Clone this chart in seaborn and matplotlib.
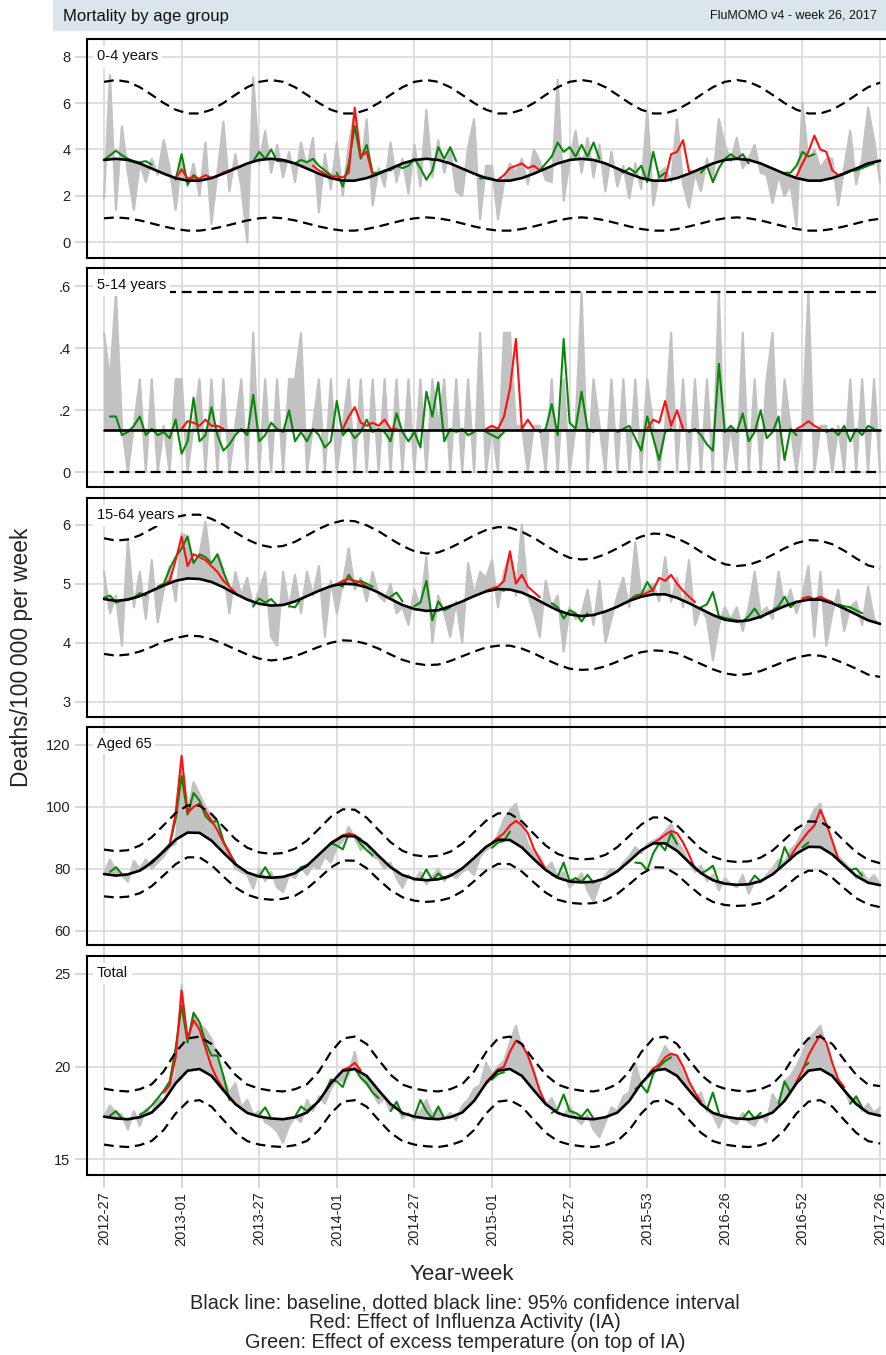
import numpy as np
import matplotlib
matplotlib.use("Agg")
import matplotlib.pyplot as plt
import seaborn as sns

# ── x axis: week index, 0 = 2012-27 ... 260 = 2017-26 ─────────────
wk2 = np.arange(0, 261, 2)      # observed, IA and temperature lines
wk4 = np.arange(0, 261, 4)      # baseline and 95% limits
wk_flat = [0, 260]              # constant lines (5-14 years)
tick_weeks = np.arange(0, 261, 26)
tick_labels = ['2012-27', '2013-01', '2013-27', '2014-01', '2014-27', '2015-01',
               '2015-27', '2015-53', '2016-26', '2016-52', '2017-26']

# ── 0-4 years ─────────────────────────────────────────────────────
obs_04 = [1.9, 7.2, 1.4, 5.0, 3.0, 1.4, 3.4, 2.6, 3.6, 2.9, 4.4, 3.2,
          1.4, 3.6, 2.4, 3.4, 2.0, 4.3, 0.8, 3.0, 5.2, 2.2, 3.8, 2.4,
          0.0, 7.1, 3.4, 4.8, 3.0, 4.2, 2.8, 3.9, 2.6, 4.3, 3.2, 4.5,
          1.3, 3.8, 2.3, 4.3, 2.0, 4.2, 5.6, 3.0, 5.3, 1.6, 3.2, 2.4,
          4.3, 2.6, 3.6, 2.1, 4.2, 2.4, 5.7, 2.8, 4.4, 3.0, 4.0, 2.2,
          2.0, 4.1, 5.3, 1.0, 3.3, 3.3, 1.0, 2.6, 3.4, 3.0, 3.6, 2.5,
          4.0, 3.5, 2.7, 2.6, 7.0, 1.8, 3.5, 4.8, 3.0, 4.5, 2.8, 4.2,
          2.2, 3.9, 2.4, 3.3, 1.9, 3.4, 2.3, 5.7, 1.6, 3.0, 3.2, 2.6,
          5.3, 2.5, 1.5, 3.0, 2.2, 3.6, 2.6, 5.3, 4.2, 3.5, 4.5, 3.2,
          3.6, 4.2, 3.0, 2.9, 1.7, 2.9, 2.0, 2.5, 0.7, 6.0, 3.5, 4.0,
          3.2, 3.6, 3.6, 1.6, 3.2, 4.8, 2.5, 3.6, 5.8, 4.4, 2.6]
base_04 = [3.55, 3.60, 3.55, 3.40, 3.18, 2.96, 2.77, 2.66, 2.66, 2.77, 2.96, 3.18, 3.40,
           3.55, 3.60, 3.55, 3.40, 3.18, 2.96, 2.77, 2.66, 2.66, 2.77, 2.96, 3.18, 3.40,
           3.55, 3.60, 3.55, 3.40, 3.18, 2.96, 2.77, 2.66, 2.66, 2.77, 2.96, 3.18, 3.40,
           3.55, 3.60, 3.55, 3.40, 3.18, 2.96, 2.77, 2.66, 2.66, 2.77, 2.96, 3.18, 3.40,
           3.55, 3.60, 3.55, 3.40, 3.18, 2.96, 2.77, 2.66, 2.66, 2.77, 2.96, 3.18, 3.40,
           3.52]
up_04 = [6.91, 6.99, 6.91, 6.68, 6.35, 6.00, 5.71, 5.55, 5.55, 5.71, 6.00, 6.35, 6.68,
         6.91, 6.99, 6.91, 6.68, 6.35, 6.00, 5.71, 5.55, 5.55, 5.71, 6.00, 6.35, 6.68,
         6.91, 6.99, 6.91, 6.68, 6.35, 6.00, 5.71, 5.55, 5.55, 5.71, 6.00, 6.35, 6.68,
         6.91, 6.99, 6.91, 6.68, 6.35, 6.00, 5.71, 5.55, 5.55, 5.71, 6.00, 6.35, 6.68,
         6.91, 6.99, 6.91, 6.68, 6.35, 6.00, 5.71, 5.55, 5.55, 5.71, 6.00, 6.35, 6.68,
         6.88]
lo_04 = [1.04, 1.08, 1.04, 0.95, 0.82, 0.69, 0.58, 0.51, 0.51, 0.58, 0.69, 0.82, 0.95,
         1.04, 1.08, 1.04, 0.95, 0.82, 0.69, 0.58, 0.51, 0.51, 0.58, 0.69, 0.82, 0.95,
         1.04, 1.08, 1.04, 0.95, 0.82, 0.69, 0.58, 0.51, 0.51, 0.58, 0.69, 0.82, 0.95,
         1.04, 1.08, 1.04, 0.95, 0.82, 0.69, 0.58, 0.51, 0.51, 0.58, 0.69, 0.82, 0.95,
         1.04, 1.08, 1.04, 0.95, 0.82, 0.69, 0.58, 0.51, 0.51, 0.58, 0.69, 0.82, 0.95,
         1.02]
# {first week: values every 2nd week}
red_04 = {24: [2.75, 3.15, 2.75, 2.8, 2.75, 2.9, 2.78, 2.85, 3.02, 3.1, 3.22],
          70: [3.3, 3.1, 2.95, 2.85, 2.85, 2.8, 3.0, 5.8, 3.7, 3.9, 2.9],
          132: [2.7, 2.9, 3.2, 3.3, 3.4, 3.2, 3.3, 3.1],
          188: [2.75, 3.8, 3.9, 4.4, 3.05, 3.05, 3.2],
          232: [2.85, 3.4, 3.9, 4.6, 4.0, 3.9, 3.1, 2.9, 2.98]}
green_04 = {0: [3.55, 3.75, 3.95, 3.75, 3.6, 3.5, 3.45, 3.5, 3.35],
            24: [2.7, 3.8, 2.5, 2.9, 2.7],
            50: [3.5, 3.9, 3.6, 4.0, 3.5, 3.5, 3.45, 3.4, 3.55, 3.45, 3.6, 3.3, 3.1, 2.9],
            78: [3.0, 2.4, 3.4, 5.0, 3.6, 4.2, 3.0, 3.0, 3.1, 3.1, 3.3, 3.2, 3.3, 3.6,
                 3.2, 2.7, 3.1, 4.1, 3.6, 4.1, 3.5],
            126: [2.75, 2.8, 2.75],
            146: [3.1, 3.4, 3.7, 4.3, 3.9, 4.1, 3.7, 4.2, 3.7, 4.3, 3.6],
            172: [3.2, 3.0, 3.2, 3.0, 3.3, 2.6, 3.9, 2.8, 3.0],
            200: [3.0, 3.3, 2.6, 3.2, 3.6, 3.8, 3.6, 3.8, 3.4],
            228: [3.0, 3.0, 3.3, 3.9, 3.7, 3.8],
            248: [3.0, 3.1, 3.1, 3.2, 3.3, 3.4]}

# ── 5-14 years ────────────────────────────────────────────────────
obs_514 = [.45, .30, .58, .15, 0, .15, .30, 0, .30, 0, .15, 0,
           .30, .30, 0, .15, .30, 0, .30, 0, .30, 0, .15, .30,
           0, .45, 0, .30, 0, .30, 0, .30, .30, .45, 0, .15,
           .30, 0, .30, 0, .15, .30, 0, .30, 0, .30, 0, .30,
           0, .30, 0, .30, 0, .30, 0, .30, .15, .30, 0, .30,
           0, .30, 0, .45, 0, .15, 0, .45, .45, .15, .15, 0,
           .15, .15, 0, .30, 0, .30, 0, .15, .58, 0, .30, .15,
           0, .30, 0, .30, 0, .30, 0, .30, .15, 0, .15, .45,
           0, .30, 0, .30, 0, .30, 0, .58, 0, .15, 0, .45,
           0, .30, 0, .30, .45, 0, .30, .15, 0, .15, .58, 0,
           .15, .15, 0, .15, 0, .30, 0, .30, 0, .30, 0]
base_514 = [0.135, 0.135]
up_514 = [0.58, 0.58]
lo_514 = [0.0, 0.0]
red_514 = {26: [.14, .165, .16, .15, .17, .15, .15, .14],
           80: [.14, .18, .21, .16, .15, .16, .15, .17, .14, .14],
           128: [.14, .15, .14, .18, .27, .43, .14, .17, .14],
           182: [.14, .17, .16, .23, .15, .20, .14],
           232: [.14, .15, .165, .15, .14]}
green_514 = {2: [.18, .18, .12, .13, .15, .18, .12, .14, .12, .13, .11, .17, .06, .10,
                 .24, .10, .12, .21, .12, .07, .09, .12, .14, .12, .25, .10, .12, .16,
                 .14, .13, .20, .10, .13, .10, .14, .12, .08, .10, .23, .12, .14, .11,
                 .13, .17, .13, .14, .13, .10, .19, .13, .10, .13, .08, .26, .18, .29,
                 .10, .14, .13, .14, .12, .13],
             128: [.13, .12, .11, .13],
             146: [.13, .14, .22, .12, .43, .16, .14, .26, .14, .13],
             172: [.13, .14, .15, .11, .07, .18, .11, .04, .13, .14],
             196: [.13, .14, .12, .09, .07, .35, .13, .15, .13, .19, .10, .13, .20,
                   .11, .13, .18, .04, .14, .12],
             242: [.13, .14, .12, .15, .10, .14, .12, .15, .14]}

# ── 15-64 years ───────────────────────────────────────────────────
obs_1564 = [5.2, 4.5, 4.8, 3.95, 5.75, 4.6, 5.2, 4.4, 5.4, 4.35, 4.9, 5.3,
            4.7, 5.85, 5.8, 5.3, 5.5, 6.05, 5.2, 5.5, 5.25, 4.5, 5.2, 4.8,
            5.1, 4.6, 4.9, 5.2, 4.1, 3.95, 5.2, 4.6, 5.15, 4.5, 5.2, 4.8,
            5.3, 4.1, 5.05, 4.5, 5.0, 5.6, 4.9, 5.1, 4.7, 5.2, 4.8, 4.7,
            5.0, 4.5, 4.6, 4.3, 4.9, 4.6, 5.45, 4.0, 4.8, 4.5, 4.1, 4.7,
            4.0, 5.35, 4.8, 5.2, 5.1, 5.4, 4.6, 5.2, 5.5, 4.8, 6.0, 4.8,
            4.5, 4.1, 5.05, 4.6, 4.8, 3.85, 4.6, 4.4, 4.5, 4.9, 4.3, 5.05,
            4.0, 4.4, 4.8, 5.1, 4.6, 5.7, 4.8, 4.9, 5.0, 4.7, 5.45, 4.7,
            5.1, 4.6, 5.4, 4.3, 4.6, 4.4, 3.7, 4.3, 4.6, 4.4, 4.6, 4.2,
            4.6, 5.2, 4.5, 4.6, 4.4, 5.2, 4.6, 4.9, 4.5, 4.8, 5.3, 4.1,
            5.2, 3.95, 4.5, 4.9, 4.2, 4.6, 4.7, 4.3, 4.95, 4.4, 4.3]
base_1564 = [4.74, 4.71, 4.73, 4.79, 4.88, 4.97, 5.05, 5.09, 5.08, 5.03, 4.94, 4.83, 4.73,
             4.66, 4.63, 4.64, 4.70, 4.79, 4.88, 4.96, 5.00, 4.99, 4.94, 4.85, 4.74, 4.64,
             4.57, 4.54, 4.55, 4.62, 4.70, 4.79, 4.87, 4.91, 4.90, 4.85, 4.76, 4.65, 4.55,
             4.48, 4.45, 4.47, 4.53, 4.61, 4.71, 4.78, 4.82, 4.82, 4.76, 4.67, 4.57, 4.47,
             4.39, 4.36, 4.38, 4.44, 4.53, 4.62, 4.69, 4.73, 4.73, 4.67, 4.58, 4.48, 4.38,
             4.32]
up_1564 = [5.77, 5.73, 5.75, 5.82, 5.93, 6.04, 6.13, 6.17, 6.17, 6.10, 6.00, 5.87, 5.75,
           5.66, 5.62, 5.64, 5.71, 5.82, 5.93, 6.02, 6.07, 6.06, 5.99, 5.89, 5.76, 5.64,
           5.55, 5.51, 5.53, 5.61, 5.71, 5.82, 5.91, 5.96, 5.95, 5.88, 5.78, 5.65, 5.53,
           5.44, 5.41, 5.43, 5.50, 5.60, 5.71, 5.80, 5.85, 5.84, 5.77, 5.67, 5.54, 5.42,
           5.33, 5.30, 5.32, 5.39, 5.49, 5.60, 5.69, 5.74, 5.73, 5.67, 5.56, 5.43, 5.31,
           5.26]
lo_1564 = [3.81, 3.78, 3.80, 3.85, 3.93, 4.02, 4.08, 4.12, 4.11, 4.06, 3.98, 3.89, 3.80,
           3.73, 3.70, 3.72, 3.77, 3.85, 3.93, 4.00, 4.04, 4.03, 3.98, 3.90, 3.80, 3.71,
           3.65, 3.62, 3.63, 3.69, 3.77, 3.85, 3.92, 3.95, 3.95, 3.90, 3.82, 3.72, 3.63,
           3.56, 3.54, 3.55, 3.60, 3.68, 3.77, 3.84, 3.87, 3.86, 3.82, 3.73, 3.64, 3.55,
           3.48, 3.45, 3.47, 3.52, 3.60, 3.68, 3.75, 3.79, 3.78, 3.73, 3.65, 3.56, 3.46,
           3.42]
red_1564 = {20: [4.98, 5.05, 5.4, 5.8, 5.3, 5.5, 5.45, 5.4, 5.3, 5.2, 5.05, 4.95, 4.85],
            78: [4.99, 5.05, 5.08, 5.05, 5.02, 4.95],
            128: [4.88, 4.92, 4.95, 5.05, 5.55, 5.0, 5.15, 4.95, 4.86, 4.77],
            178: [4.78, 4.8, 4.85, 4.9, 5.1, 5.05, 5.15, 5.0, 4.88, 4.78, 4.69],
            234: [4.75, 4.78, 4.74, 4.78, 4.73, 4.69]}
green_1564 = {0: [4.76, 4.8, 4.68, 4.72, 4.74, 4.76, 4.84, 4.8],
              18: [4.95, 5.0, 5.25, 5.45, 5.6, 5.8, 5.35, 5.5, 5.45, 5.35, 5.5, 5.2, 4.95],
              50: [4.62, 4.75, 4.68, 4.74, 4.63],
              62: [4.62, 4.6, 4.75],
              76: [4.95, 5.0, 4.95, 5.15, 5.0, 5.05, 5.0, 4.95],
              96: [4.78, 4.85, 4.7],
              104: [4.62, 4.68, 5.05, 4.38, 4.7, 4.55, 4.6],
              130: [4.9, 4.92, 4.88],
              150: [4.67, 4.6, 4.41, 4.55, 4.5, 4.36, 4.5],
              176: [4.72, 4.8, 4.82, 5.03, 4.87],
              200: [4.6, 4.65, 4.86, 4.45, 4.42, 4.4, 4.38, 4.36, 4.45, 4.58, 4.42,
                    4.5, 4.55, 4.62, 4.78, 4.6, 4.7],
              246: [4.65, 4.62, 4.6, 4.55, 4.5]}

# ── Aged 65 ───────────────────────────────────────────────────────
obs_65 = [78.5, 83.0, 79.5, 78.0, 75.8, 82.5, 80.0, 83.0, 80.0, 82.0, 84.0, 87.0,
          88.0, 113.0, 98.0, 108.0, 104.0, 100.0, 97.0, 95.0, 88.0, 86.0, 80.0, 79.0,
          78.0, 73.5, 80.0, 76.0, 79.0, 74.0, 72.5, 78.0, 77.0, 80.5, 78.0, 81.0,
          80.0, 84.0, 82.0, 87.0, 89.0, 93.5, 90.0, 86.0, 88.0, 84.0, 83.0, 80.0,
          82.0, 77.0, 73.8, 78.0, 76.0, 79.0, 75.0, 77.5, 80.0, 76.0, 78.5, 77.0,
          79.0, 80.0, 78.0, 84.0, 86.0, 87.5, 91.0, 96.0, 99.0, 101.0, 94.0, 88.0,
          85.0, 84.0, 80.0, 82.0, 77.0, 79.0, 74.0, 76.0, 78.5, 73.0, 69.5, 75.0,
          78.0, 80.0, 79.0, 82.0, 84.0, 87.0, 85.0, 88.0, 89.0, 90.0, 92.0, 94.5,
          89.0, 86.0, 82.0, 79.0, 81.0, 76.0, 78.0, 73.0, 77.0, 75.0, 74.0, 78.0,
          72.0, 76.0, 75.5, 78.0, 80.0, 83.0, 82.0, 86.0, 88.0, 92.0, 95.0, 99.0,
          101.0, 92.0, 88.0, 84.0, 82.0, 80.0, 77.0, 79.0, 76.0, 78.0, 75.0]
base_65 = [78.3, 77.8, 78.2, 79.4, 82.0, 85.6, 89.4, 91.7, 91.6, 89.1, 85.2, 81.5, 78.8,
           77.5, 77.1, 77.4, 78.6, 81.0, 84.6, 88.2, 90.6, 90.5, 88.0, 84.2, 80.5, 78.0,
           76.7, 76.3, 76.6, 77.7, 80.1, 83.5, 87.1, 89.4, 89.3, 86.9, 83.1, 79.6, 77.1,
           75.9, 75.6, 75.8, 76.9, 79.2, 82.5, 86.0, 88.2, 88.2, 85.8, 82.1, 78.6, 76.3,
           75.2, 74.8, 75.0, 76.0, 78.2, 81.5, 84.9, 87.1, 87.0, 84.6, 81.1, 77.7, 75.5,
           74.7]
up_65 = [86.2, 85.7, 86.0, 87.5, 90.2, 94.1, 98.0, 100.5, 100.4, 97.7, 93.6, 89.6, 86.8,
         85.3, 84.8, 85.1, 86.5, 89.1, 92.9, 96.8, 99.2, 99.1, 96.5, 92.5, 88.6, 85.8,
         84.4, 83.9, 84.2, 85.5, 88.1, 91.8, 95.5, 97.9, 97.8, 95.3, 91.3, 87.5, 84.8,
         83.5, 83.0, 83.3, 84.5, 87.0, 90.6, 94.3, 96.6, 96.5, 94.0, 90.1, 86.4, 83.9,
         82.6, 82.2, 82.4, 83.6, 85.9, 89.4, 93.0, 95.3, 95.2, 92.8, 89.0, 85.4, 82.9,
         81.8]
lo_65 = [71.1, 70.7, 71.0, 72.1, 74.4, 77.9, 81.5, 83.7, 83.7, 81.2, 77.5, 74.0, 71.6,
         70.4, 70.0, 70.3, 71.3, 73.6, 76.9, 80.4, 82.7, 82.6, 80.2, 76.5, 73.1, 70.8,
         69.7, 69.3, 69.6, 70.6, 72.7, 76.0, 79.4, 81.6, 81.5, 79.1, 75.6, 72.3, 70.0,
         69.0, 68.7, 68.9, 69.8, 71.9, 75.0, 78.3, 80.5, 80.4, 78.1, 74.6, 71.4, 69.3,
         68.3, 68.0, 68.2, 69.0, 71.0, 74.0, 77.3, 79.4, 79.3, 77.1, 73.7, 70.5, 68.5,
         67.6]
red_65 = {20: [85.8, 87.6, 98.0, 116.5, 98.0, 100.0, 101.0, 98.5, 95.5, 92.5, 88.5, 85.0, 81.6],
          76: [88.4, 89.6, 90.8, 91.3, 90.8, 89.6],
          130: [88.5, 90.0, 91.5, 94.0, 95.5, 94.0, 91.5, 86.5, 83.0, 79.7],
          184: [88.3, 89.5, 91.0, 92.2, 91.5, 88.5, 84.5, 80.0, 78.7],
          230: [84.0, 87.0, 89.5, 92.0, 94.0, 99.0, 94.5, 89.0, 83.0, 81.2]}
green_65 = {2: [79.0, 80.5, 78.3],
            12: [79.6, 80.5, 82.5, 84.0, 85.9, 88.0, 96.0, 110.0, 97.5, 104.5, 102.0,
                 97.0, 95.0, 95.5, 89.0, 85.0, 82.0],
            52: [77.5, 80.5, 77.2],
            64: [78.6, 80.5, 81.2],
            76: [88.3, 87.5, 86.3, 91.4, 90.8, 88.0, 86.0, 84.3],
            104: [76.7, 76.4, 79.8, 76.3, 78.5, 76.8, 77.8],
            130: [86.8, 88.5, 89.0, 92.0],
            150: [78.0, 77.5, 82.0, 76.0, 77.0, 75.8, 78.0, 75.5],
            178: [82.0, 81.8, 79.5, 85.0, 88.2, 86.0, 91.5, 88.0],
            200: [78.5, 79.5, 81.0, 75.5],
            216: [75.0, 77.8, 76.0],
            226: [80.3, 87.0, 83.0],
            234: [87.0, 88.5],
            250: [79.6, 80.1, 77.8]}

# ── Total ─────────────────────────────────────────────────────────
obs_tot = [17.3, 17.9, 17.5, 17.4, 16.6, 17.6, 16.8, 17.7, 17.5, 18.3, 18.2, 18.9,
           19.5, 24.4, 21.3, 22.9, 22.3, 22.0, 21.5, 20.5, 19.4, 18.6, 19.1, 17.8,
           18.2, 17.4, 17.6, 17.0, 16.8, 16.5, 15.9, 16.8, 17.3, 17.0, 18.2, 17.6,
           18.4, 18.0, 18.8, 19.3, 19.2, 19.6, 20.8, 19.4, 19.0, 18.6, 18.0, 18.3,
           17.6, 17.9, 17.2, 17.5, 17.1, 17.6, 18.2, 17.4, 17.8, 17.2, 17.5, 17.1,
           17.9, 18.2, 18.8, 19.0, 20.2, 19.6, 20.0, 20.3, 21.3, 22.2, 21.0, 20.6,
           19.8, 18.6, 17.9, 18.3, 17.6, 17.3, 17.9, 17.2, 16.9, 17.4, 16.6, 16.2,
           17.0, 17.8, 17.6, 18.4, 18.6, 20.2, 19.0, 19.4, 19.6, 20.4, 21.1, 20.6,
           20.5, 19.6, 19.0, 18.3, 18.6, 17.6, 17.4, 16.7, 17.5, 17.1, 16.9, 17.5,
           17.0, 16.8, 17.4, 17.0, 18.5, 18.0, 19.2, 19.5, 20.0, 20.7, 21.5, 21.8,
           22.2, 21.0, 20.0, 19.3, 18.8, 18.0, 18.3, 17.6, 18.0, 17.5, 17.8]
base_tot = [17.30, 17.20, 17.16, 17.27, 17.52, 18.15, 19.10, 19.78, 19.87, 19.50, 18.72, 17.98, 17.50,
            17.30, 17.20, 17.16, 17.27, 17.52, 18.15, 19.10, 19.78, 19.87, 19.50, 18.72, 17.98, 17.50,
            17.30, 17.20, 17.16, 17.27, 17.52, 18.15, 19.10, 19.78, 19.87, 19.50, 18.72, 17.98, 17.50,
            17.30, 17.20, 17.16, 17.27, 17.52, 18.15, 19.10, 19.78, 19.87, 19.50, 18.72, 17.98, 17.50,
            17.30, 17.20, 17.16, 17.27, 17.52, 18.15, 19.10, 19.78, 19.87, 19.50, 18.72, 17.98, 17.50,
            17.35]
up_tot = [18.81, 18.70, 18.66, 18.78, 19.05, 19.74, 20.78, 21.52, 21.62, 21.22, 20.36, 19.56, 19.03,
          18.81, 18.70, 18.66, 18.78, 19.05, 19.74, 20.78, 21.52, 21.62, 21.22, 20.36, 19.56, 19.03,
          18.81, 18.70, 18.66, 18.78, 19.05, 19.74, 20.78, 21.52, 21.62, 21.22, 20.36, 19.56, 19.03,
          18.81, 18.70, 18.66, 18.78, 19.05, 19.74, 20.78, 21.52, 21.62, 21.22, 20.36, 19.56, 19.03,
          18.81, 18.70, 18.66, 18.78, 19.05, 19.74, 20.78, 21.52, 21.62, 21.22, 20.36, 19.56, 19.03,
          18.95]
lo_tot = [15.79, 15.70, 15.66, 15.76, 15.99, 16.58, 17.47, 18.11, 18.19, 17.84, 17.12, 16.43, 15.98,
          15.79, 15.70, 15.66, 15.76, 15.99, 16.58, 17.47, 18.11, 18.19, 17.84, 17.12, 16.43, 15.98,
          15.79, 15.70, 15.66, 15.76, 15.99, 16.58, 17.47, 18.11, 18.19, 17.84, 17.12, 16.43, 15.98,
          15.79, 15.70, 15.66, 15.76, 15.99, 16.58, 17.47, 18.11, 18.19, 17.84, 17.12, 16.43, 15.98,
          15.79, 15.70, 15.66, 15.76, 15.99, 16.58, 17.47, 18.11, 18.19, 17.84, 17.12, 16.43, 15.98,
          15.85]
red_tot = {20: [18.6, 19.0, 20.5, 24.1, 21.5, 22.5, 22.0, 21.0, 20.0, 19.3, 18.8, 18.3, 18.0],
           80: [19.82, 19.95, 20.2, 19.8],
           128: [19.15, 19.5, 19.85, 20.0, 20.8, 21.4, 21.2, 20.6, 19.7, 18.7, 18.0],
           182: [19.5, 19.9, 20.1, 20.5, 20.7, 20.6, 20.0, 19.2, 18.6, 18.1],
           232: [19.2, 19.8, 20.6, 21.2, 21.7, 21.3, 20.2, 19.3, 18.9]}
green_tot = {2: [17.35, 17.6, 17.2],
             12: [17.4, 17.6, 17.9, 18.3, 18.7, 19.2, 21.0, 23.3, 21.3, 22.9, 22.4, 21.3,
                  20.6, 20.6, 19.5, 18.2],
             52: [17.4, 17.8, 17.2],
             64: [17.3, 17.85, 17.6, 17.9],
             74: [18.6, 19.3, 19.2, 18.9, 19.8, 19.9, 19.4, 19.1, 18.6, 18.3],
             96: [17.6, 18.1, 17.4],
             104: [17.3, 18.2, 17.6, 17.2, 17.85, 17.2, 17.3],
             130: [19.3, 19.6, 19.7],
             150: [17.5, 17.7, 18.5, 17.6, 17.5, 17.3, 17.7, 17.2],
             178: [18.8, 19.0, 18.6, 19.6, 20.0, 20.3, 20.5],
             200: [18.0, 17.7, 18.6, 17.5],
             214: [17.2, 17.6, 17.2, 17.5],
             226: [18.0, 19.2, 18.6],
             234: [19.9, 20.2],
             250: [18.0, 18.4, 17.8]}

# ── styling ───────────────────────────────────────────────────────
sns.set_theme(style="whitegrid", rc={
    "axes.edgecolor": "black", "axes.linewidth": 1.5,
    "grid.color": "#dcdcdc", "grid.linewidth": 1.3,
})
plt.rcParams['font.family'] = ['Liberation Sans', 'DejaVu Sans']

GRAY, RED, GREEN = '#c2c2c2', '#ff1010', '#0a870a'
DASH = (0, (4.4, 2.6))
W, H = 887, 1355

panels = [
    ('0-4 years', obs_04, wk4, base_04, up_04, lo_04, red_04, green_04,
     [0, 2, 4, 6, 8], ['0', '2', '4', '6', '8'], (-0.667, 8.753), (39, 258)),
    ('5-14 years', obs_514, wk_flat, base_514, up_514, lo_514, red_514, green_514,
     [0, .2, .4, .6], ['0', '.2', '.4', '.6'], (-0.0474, 0.659), (268, 487)),
    ('15-64 years', obs_1564, wk4, base_1564, up_1564, lo_1564, red_1564, green_1564,
     [3, 4, 5, 6], ['3', '4', '5', '6'], (2.741, 6.453), (498, 717)),
    ('Aged 65', obs_65, wk4, base_65, up_65, lo_65, red_65, green_65,
     [60, 80, 100, 120], ['60', '80', '100', '120'], (55.38, 125.8), (727, 945)),
    ('Total', obs_tot, wk4, base_tot, up_tot, lo_tot, red_tot, green_tot,
     [15, 20, 25], ['15', '20', '25'], (14.15, 25.97), (956, 1175)),
]

fig = plt.figure(figsize=(W / 100, H / 100), dpi=100)

# header band
fig.add_artist(plt.Rectangle((53 / W, 1 - 31 / H), (W - 53) / W, 31 / H,
                             transform=fig.transFigure, color='#dae5ec', lw=0))
fig.text(63 / W, 1 - 16 / H, 'Mortality by age group', fontsize=12, va='center', color='#111111')
fig.text(877 / W, 1 - 16 / H, 'FluMOMO v4 - week 26, 2017', fontsize=9, va='center',
         ha='right', color='#111111')

for i, (label, obs, bx, base, up, lo, red, green, yt, ytl, ylim, (top, bot)) in enumerate(panels):
    ax = fig.add_axes([87 / W, 1 - bot / H, 802 / W, (bot - top) / H])
    ax.set_axisbelow(True)

    # gray area between observed and baseline
    ax.fill(np.concatenate([wk2, np.asarray(bx)[::-1]]),
            np.concatenate([obs, np.asarray(base)[::-1]]),
            color=GRAY, lw=0, zorder=1)
    sns.lineplot(x=wk2, y=obs, color=GRAY, lw=1.6, ax=ax, zorder=1.2,
                 estimator=None, errorbar=None)

    for seg, col, z in ((green, GREEN, 2), (red, RED, 2.5)):
        for start, vals in seg.items():
            xs = start + 2 * np.arange(len(vals))
            sns.lineplot(x=xs, y=vals, color=col, lw=1.5, ax=ax, zorder=z,
                         estimator=None, errorbar=None)

    sns.lineplot(x=bx, y=base, color='black', lw=1.9, ax=ax, zorder=3,
                 estimator=None, errorbar=None)
    for lim in (up, lo):
        sns.lineplot(x=bx, y=lim, color='black', lw=1.6, linestyle=DASH, ax=ax,
                     zorder=3, estimator=None, errorbar=None)

    ax.set_xlim(-5.7, 263.0)
    ax.set_ylim(*ylim)
    ax.set_yticks(yt)
    ax.set_yticklabels(ytl)
    ax.set_xticks(tick_weeks)
    ax.set_xlabel('')
    ax.set_ylabel('')
    ax.tick_params(axis='both', length=9, width=1.2, color='#cfcfcf',
                   labelsize=10.5, labelcolor='#222222', pad=3,
                   left=True, bottom=True)
    if i == len(panels) - 1:
        ax.set_xticklabels(tick_labels, rotation=90)
    else:
        ax.set_xticklabels([])
    for s in ax.spines.values():
        s.set_color('black')
        s.set_linewidth(1.5)

    ax.text(10 / 802, 1 - 17 / (bot - top), label, transform=ax.transAxes,
            ha='left', va='center', fontsize=10.5, color='#111111', zorder=10,
            bbox=dict(facecolor='white', edgecolor='none', pad=2.5))

fig.text(22 / W, 1 - 657 / H, 'Deaths/100\u2009000 per week', rotation=90,
         fontsize=16.5, ha='center', va='center')
fig.text(462 / W, 1 - 1274 / H, 'Year-week', fontsize=16, ha='center', va='center')
captions = ['Black line: baseline, dotted black line: 95% confidence interval',
            'Red: Effect of Influenza Activity (IA)',
            'Green: Effect of excess temperature (on top of IA)']
for k, txt in enumerate(captions):
    fig.text(465 / W, 1 - (1303 + 20 * k) / H, txt, fontsize=14.3,
             ha='center', va='center')

fig.savefig('out.png', dpi=100)
plt.close(fig)
